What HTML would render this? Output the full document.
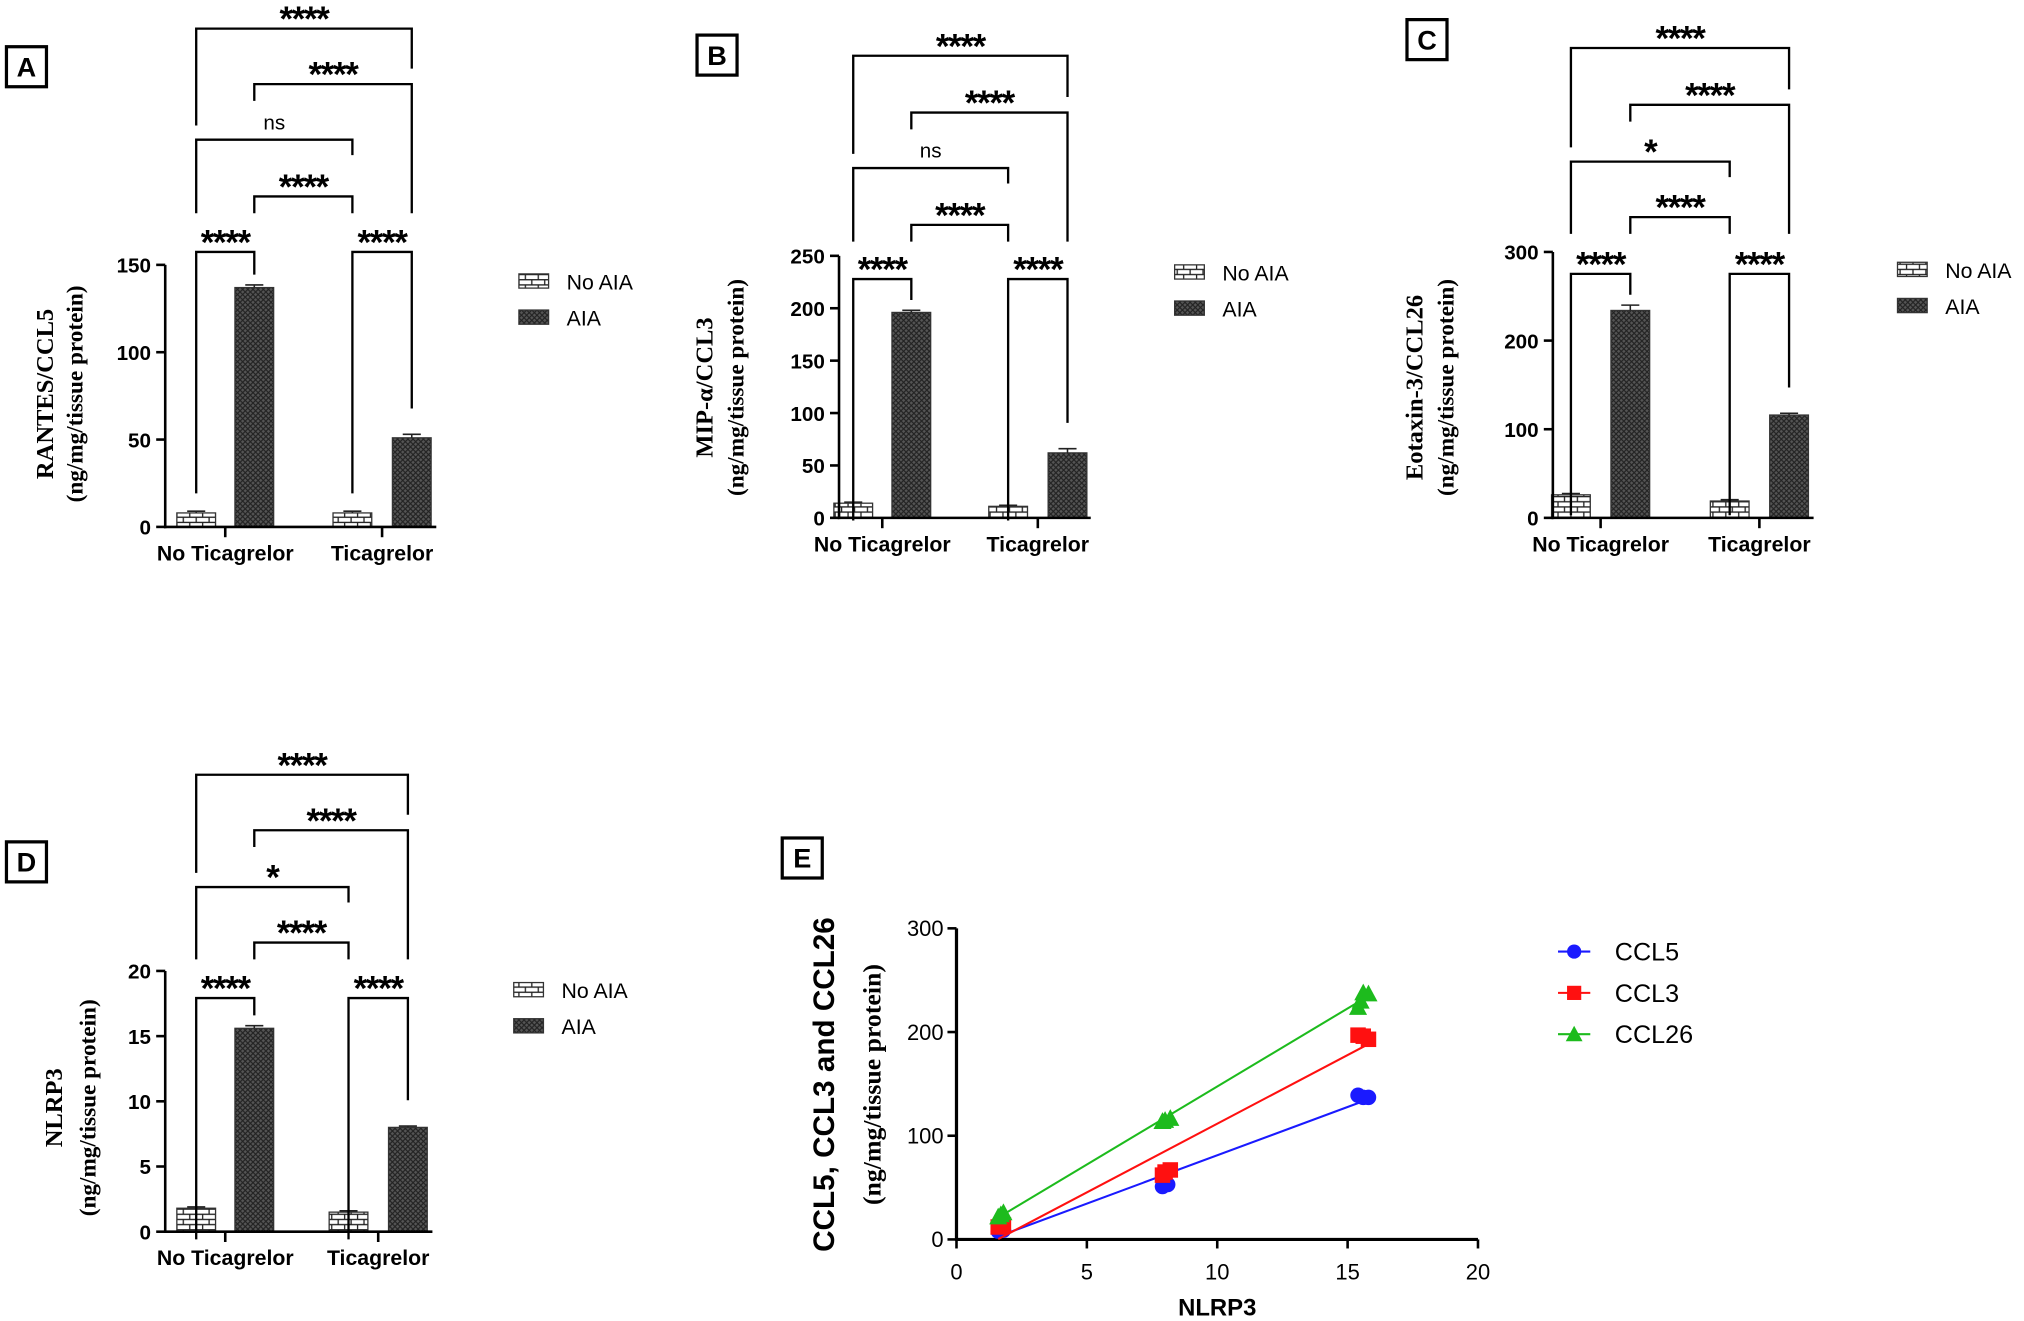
<!DOCTYPE html>
<html><head><meta charset="utf-8"><style>
html,body{margin:0;padding:0;background:#fff}
svg{display:block}
text{font-family:"Liberation Sans",sans-serif}
.serif{font-family:"Liberation Serif",serif;font-weight:bold}
</style></head><body>
<svg id="fig" width="2024" height="1321" viewBox="0 0 1568 1023" xmlns="http://www.w3.org/2000/svg">
<defs>
<pattern id="brick" width="10" height="8" patternUnits="userSpaceOnUse">
<rect width="10" height="8" fill="#fff"/>
<path d="M0 0.5H10M0 4.5H10M2 0.5V4.5M7 4.5V8.5" stroke="#222" stroke-width="1"/>
</pattern>
<pattern id="hatch" width="4" height="4" patternUnits="userSpaceOnUse">
<rect width="4" height="4" fill="#555"/>
<path d="M0 0L4 4M4 0L0 4" stroke="#222" stroke-width="0.9"/>
</pattern>
</defs>
</svg>
<script>
// ---- data ----
const groups = ["No Ticagrelor","Ticagrelor"];
const seriesNames = ["No AIA","AIA"];
const valsA = [8, 137, 8, 51];
const errA = [1, 1.5, 1, 2];
const valsB = [14, 196, 11, 62];
const errB = [1, 2, 1, 4];
const valsC = [26, 234, 19, 116];
const errC = [1.5, 6, 1.5, 2];
const valsD = [1.8, 15.6, 1.5, 8.0];
const errD = [0.1, 0.2, 0.1, 0.1];
const ticksA = [0,50,100,150];
const ticksB = [0,50,100,150,200,250];
const ticksC = [0,100,200,300];
const ticksD = [0,5,10,15,20];
const sigA = ["****","****","****","ns","****","****"];
const sigB = ["****","****","****","ns","****","****"];
const sigC = ["****","****","****","*","****","****"];
const sigD = ["****","****","****","*","****","****"];
const eNames = ["CCL5","CCL3","CCL26"];
const eX5 = [1.6,1.8,1.7,7.9,8.1,8.0,15.4,15.6,15.8];
const eY5 = [8,9,10,51,53,55,139,137,137];
const eX3 = [1.7,1.8,1.6,7.9,8.2,8.0,15.4,15.6,15.8];
const eY3 = [13,14,12,62,67,65,197,196,193];
const eX26 = [1.8,1.6,1.7,8.0,8.2,7.9,15.4,15.6,15.8,15.5];
const eY26 = [26,22,24,115,117,114,224,238,237,230];
const eXTicks = [0,5,10,15,20];
const eYTicks = [0,100,200,300];

const NS="http://www.w3.org/2000/svg";
const svg=document.getElementById('fig');
function mk(tag,attrs,parent,txt){const e=document.createElementNS(NS,tag);for(const k in attrs)e.setAttribute(k,attrs[k]);if(txt!==undefined)e.textContent=txt;(parent||svg).appendChild(e);return e;}

function panelLabel(letter,x,y){
  const g=mk('g',{});
  
  
  mk('rect',{x:x,y:y,width:31,height:31,fill:'none',stroke:'#000','stroke-width':2.5},g);
  mk('text',{x:x+15.5,y:y+23,'text-anchor':'middle','font-size':21,'font-weight':'bold'},g,letter);
}

function barPanel(p){
  const g=mk('g',{});
  
  
  const ymax=p.ticks[p.ticks.length-1];
  const yS=v=>p.y0-(v/ymax)*(p.y0-p.ytop);
  p.vals.forEach((v,i)=>{
    const cx=p.cx[i];
    const b=mk('rect',{x:cx-15,y:yS(v),width:30,height:p.y0-yS(v),fill:i%2===0?'url(#brick)':'url(#hatch)',stroke:'#333','stroke-width':1},g);
    
    
    const et=yS(v+p.err[i]);
    mk('path',{d:`M${cx} ${yS(v)}V${et}M${cx-7} ${et}H${cx+7}`,stroke:'#222','stroke-width':1.2,fill:'none'},g);
  });
  const ax=mk('g',{},g);
  
  
  mk('line',{x1:p.ax,y1:p.y0+1,x2:p.ax,y2:p.ytop,stroke:'#000','stroke-width':2},ax);
  p.ticks.forEach(t=>{
    mk('line',{x1:p.ax-7,y1:yS(t),x2:p.ax,y2:yS(t),stroke:'#000','stroke-width':2},ax);
    mk('text',{x:p.ax-11,y:yS(t)+6,'text-anchor':'end','font-size':16,'font-weight':'bold'},ax,t);
  });
  const xa=mk('g',{},g);
  
  
  mk('line',{x1:p.ax-1,y1:p.y0,x2:p.xend,y2:p.y0,stroke:'#000','stroke-width':2},xa);
  groups.forEach((gname,i)=>{
    const gx=(p.cx[2*i]+p.cx[2*i+1])/2;
    mk('line',{x1:gx,y1:p.y0,x2:gx,y2:p.y0+8,stroke:'#000','stroke-width':2},xa);
    mk('text',{x:gx,y:p.y0+26,'text-anchor':'middle','font-size':16.5,'font-weight':'bold'},xa,gname);
  });
  const yt=mk('g',{},g);
  
  
  mk('text',{x:0,y:0,'class':'serif','font-size':19,'text-anchor':'middle',transform:`translate(${p.tx1},${p.tyc}) rotate(-90)`},yt,p.t1);
  mk('text',{x:0,y:0,'class':'serif','font-size':18,'text-anchor':'middle',transform:`translate(${p.tx2},${p.tyc}) rotate(-90)`},yt,p.t2);
  const c=p.cx, L=p.bry;
  // [i, j, level, leftLegBottom, rightLegBottom]
  const br=[
    [0,1,0,L[0]+187,yS(p.vals[1]+p.err[1])-8],
    [2,3,0,L[0]+187,yS(p.vals[3]+p.err[3])-20],
    [1,2,1,L[1]+13,L[1]+13],
    [0,2,2,L[1]+13,L[2]+12],
    [1,3,3,L[3]+13,L[1]+13],
    [0,3,4,L[2]-11,L[3]-12]
  ];
  br.forEach((b,k)=>{
    const y=L[b[2]];
    const x1=c[b[0]],x2=c[b[1]];
    const bp=mk('path',{d:`M${x1} ${b[3]}V${y}H${x2}V${b[4]}`,fill:'none',stroke:'#000','stroke-width':1.8},g);
    
    
    const s=p.sig[k];
    if(s==='ns') mk('text',{x:(x1+x2)/2,y:y-8,'text-anchor':'middle','font-size':16},g,s);
    else mk('text',{x:(x1+x2)/2,y:y+2,'text-anchor':'middle','font-size':27,'font-weight':'bold','letter-spacing':'-1'},g,s);
  });
  const lg=mk('g',{},g);
  
  
  seriesNames.forEach((n,i)=>{
    const ly=p.ly+i*28;
    const e=mk('g',{},lg);
    
    
    mk('rect',{x:p.lx,y:ly-6,width:23,height:11,fill:i===0?'url(#brick)':'url(#hatch)',stroke:'#333','stroke-width':1},e);
    mk('text',{x:p.lx+37,y:ly+6,'font-size':16.5},e,n);
  });
}

barPanel({id:'a',vals:valsA,err:errA,ticks:ticksA,ax:128,y0:408,ytop:205,cx:[152,197,273,319],xend:338,
  t1:'RANTES/CCL5',t2:'(ng/mg/tissue protein)',tx1:41,tx2:64,tyc:305,sig:sigA,bry:[195,152,108,65,22],lx:402,ly:218});
barPanel({id:'b',vals:valsB,err:errB,ticks:ticksB,ax:650,y0:401,ytop:198,cx:[661,706,781,827],xend:845,
  t1:'MIP-α/CCL3',t2:'(ng/mg/tissue protein)',tx1:552,tx2:576,tyc:300,sig:sigB,bry:[216,174,130,87,43],lx:910,ly:211});
barPanel({id:'c',vals:valsC,err:errC,ticks:ticksC,ax:1203,y0:401,ytop:195,cx:[1217,1263,1340,1386],xend:1405,
  t1:'Eotaxin-3/CCL26',t2:'(ng/mg/tissue protein)',tx1:1102,tx2:1126,tyc:300,sig:sigC,bry:[212,168,125,81,37],lx:1470,ly:209});
barPanel({id:'d',vals:valsD,err:errD,ticks:ticksD,ax:128,y0:954,ytop:752,cx:[152,197,270,316],xend:335,
  t1:'NLRP3',t2:'(ng/mg/tissue protein)',tx1:48,tx2:74,tyc:858,sig:sigD,bry:[773,730,687,643,600],lx:398,ly:767});

panelLabel('A',5,36);panelLabel('B',540,27);panelLabel('C',1090,15);panelLabel('D',5,652);panelLabel('E',606,649);

(function(){
  const g=mk('g',{});
  
  
  const X0=741,X1=1145,Y0=960,Y1=719;
  const xS=v=>X0+v/20*(X1-X0), yS=v=>Y0-v/300*(Y0-Y1);
  const xa=mk('g',{},g);
  
  
  mk('line',{x1:X0-1,y1:Y0,x2:X1,y2:Y0,stroke:'#000','stroke-width':2.5},xa);
  eXTicks.forEach(t=>{mk('line',{x1:xS(t),y1:Y0,x2:xS(t),y2:Y0+7,stroke:'#000','stroke-width':2},xa);
    mk('text',{x:xS(t),y:Y0+31,'text-anchor':'middle','font-size':17},xa,t);});
  mk('text',{x:943,y:1019,'text-anchor':'middle','font-size':18.5,'font-weight':'bold'},xa,'NLRP3');
  const ya=mk('g',{},g);
  
  
  mk('line',{x1:X0,y1:Y0+1,x2:X0,y2:Y1,stroke:'#000','stroke-width':2.5},ya);
  eYTicks.forEach(t=>{mk('line',{x1:X0-7,y1:yS(t),x2:X0,y2:yS(t),stroke:'#000','stroke-width':2},ya);
    mk('text',{x:X0-10,y:yS(t)+6,'text-anchor':'end','font-size':17},ya,t);});
  mk('text',{x:0,y:0,'font-size':23,'font-weight':'bold','text-anchor':'middle',transform:'translate(646,840) rotate(-90)'},ya,'CCL5, CCL3 and CCL26');
  mk('text',{x:0,y:0,'class':'serif','font-size':20,'text-anchor':'middle',transform:'translate(682,840) rotate(-90)'},ya,'(ng/mg/tissue protein)');
  const S=[[eX5,eY5,'#1a1aff','circle'],[eX3,eY3,'#ff1010','square'],[eX26,eY26,'#1dbb1d','tri']];
  function marker(par,shape,x,y,col,r){
    if(shape==='circle')return mk('circle',{cx:x,cy:y,r:r,fill:col},par);
    if(shape==='square')return mk('rect',{x:x-r,y:y-r,width:2*r,height:2*r,fill:col},par);
    return mk('path',{d:`M${x} ${y-r-1}L${x+r+1} ${y+r}L${x-r-1} ${y+r}Z`,fill:col},par);
  }
  S.forEach((s,k)=>{
    const xs=s[0],ys=s[1],n=xs.length;
    const mx=xs.reduce((a,b)=>a+b)/n,my=ys.reduce((a,b)=>a+b)/n;
    let sxy=0,sxx=0;xs.forEach((x,i)=>{sxy+=(x-mx)*(ys[i]-my);sxx+=(x-mx)**2;});
    const m=sxy/sxx,b=my-m*mx;
    const lo=Math.min(...xs),hi=Math.max(...xs);
    const sg=mk('g',{},g);
    
    
    const ln=mk('line',{x1:xS(lo),y1:yS(m*lo+b),x2:xS(hi),y2:yS(m*hi+b),stroke:s[2],'stroke-width':1.6},sg);
    
    
    xs.forEach((x,i)=>{
      const p=marker(sg,s[3],xS(x),yS(ys[i]),s[2],6);
      
      
    });
    const ly=737+k*32;
    const le=mk('g',{},g);
    
    
    mk('line',{x1:1207,y1:ly,x2:1232,y2:ly,stroke:s[2],'stroke-width':1.6},le);
    marker(le,s[3],1219.5,ly,s[2],5.5);
    mk('text',{x:1251,y:ly+7,'font-size':19.5},le,eNames[k]);
  });
})();
</script>
</body></html>
